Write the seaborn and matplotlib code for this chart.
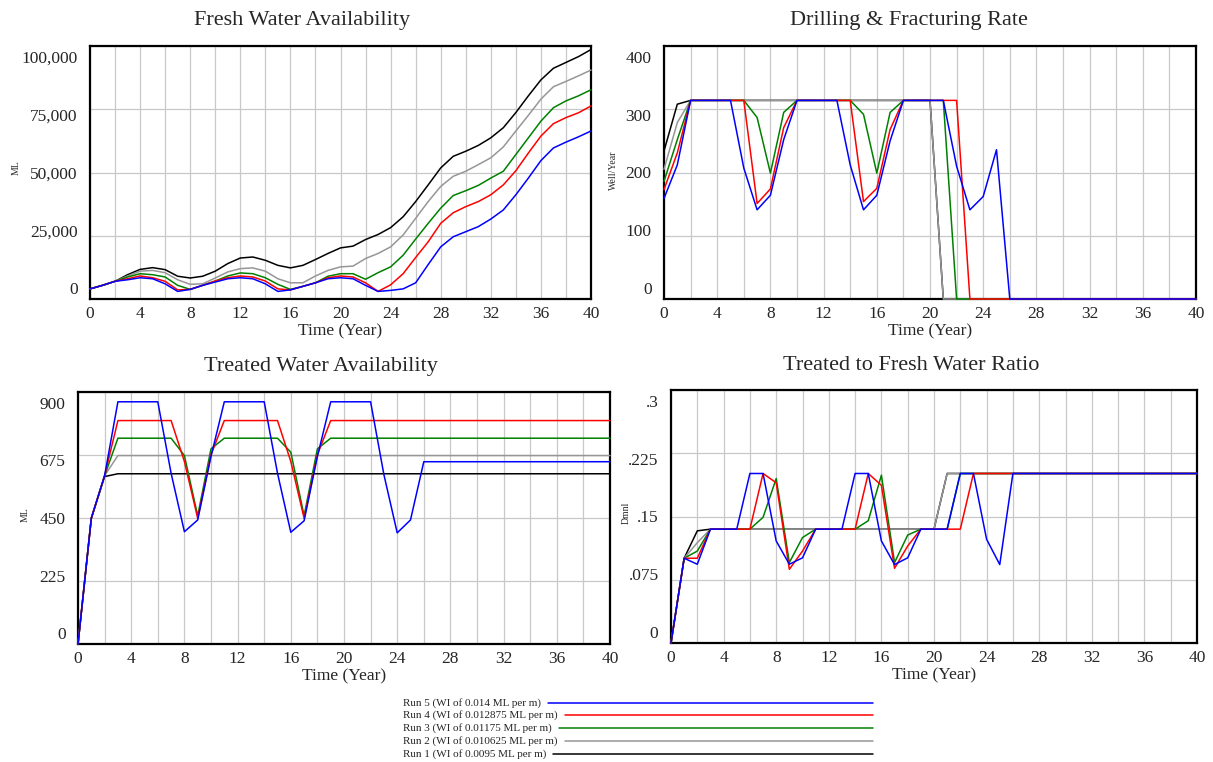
import numpy as np
import pandas as pd
import matplotlib.pyplot as plt
import seaborn as sns
from matplotlib.transforms import ScaledTranslation
from matplotlib.lines import Line2D

# DATA (one value per year)
years = list(range(41))

run_names = ['Run 1 (WI of 0.0095 ML per m)',
             'Run 2 (WI of 0.010625 ML per m)',
             'Run 3 (WI of 0.01175 ML per m)',
             'Run 4 (WI of 0.012875 ML per m)',
             'Run 5 (WI of 0.014 ML per m)']
run_colors = ['#000000', '#969696', '#008000', '#ff0000', '#0000ff']

## Fresh Water Availability (ML)
fresh_run1 = [4000, 5400, 7000, 9600, 11700, 12400, 11600, 9000, 8300, 9000,
              11000, 14000, 16200, 16600, 15300, 13300, 12300, 13300, 15600, 18000,
              20200, 20900, 23500, 25500, 28200, 32500, 38500, 45100, 51800, 56400,
              58400, 60700, 63700, 67700, 73700, 80300, 86600, 91200, 93500, 95800, 98600]
fresh_run2 = [4000, 5400, 7000, 9100, 11000, 11300, 10400, 7600, 5800, 6000,
              8300, 10700, 12000, 12300, 11000, 8000, 6400, 6400, 9100, 11300,
              12700, 13000, 16000, 18000, 20600, 25300, 31900, 38500, 44500, 48500,
              50500, 53100, 55800, 60100, 66400, 72600, 79000, 83900, 86000, 88200, 90500]
fresh_run3 = [4000, 5400, 7000, 8700, 10000, 9600, 8700, 5400, 3800, 5400,
              7100, 9100, 10300, 10000, 8400, 5800, 3800, 5000, 6400, 9000,
              10000, 10000, 7800, 10400, 12700, 17300, 23700, 29900, 35900, 40900,
              42800, 44900, 47800, 50500, 57100, 63700, 70300, 75600, 78300, 80300, 82700]
fresh_run4 = [4000, 5400, 7000, 8000, 9100, 8400, 7000, 3600, 3800, 5400,
              7100, 8400, 9100, 8700, 7100, 4000, 3600, 5000, 6400, 8400,
              9100, 8700, 6400, 3000, 5600, 10000, 16400, 22600, 29900, 34100,
              36500, 38500, 41200, 45100, 50700, 57700, 64400, 69300, 71700, 73600, 76300]
fresh_run5 = [4000, 5400, 7000, 7600, 8400, 8000, 6000, 3000, 3800, 5400,
              6700, 8000, 8400, 8000, 6000, 3000, 3600, 5000, 6400, 8000,
              8400, 8000, 5400, 3000, 3400, 4000, 6400, 13600, 20600, 24600,
              26600, 28600, 31600, 35200, 41200, 47800, 54700, 59700, 62000, 64100, 66400]

## Drilling & Fracturing Rate (Well/Year)
drill_run1 = [234, 308, 314, 314, 314, 314, 314, 314, 314, 314,
              314, 314, 314, 314, 314, 314, 314, 314, 314, 314,
              314, 0, 0, 0, 0, 0, 0, 0, 0, 0,
              0, 0, 0, 0, 0, 0, 0, 0, 0, 0, 0]
drill_run2 = [205, 279, 314, 314, 314, 314, 314, 314, 314, 314,
              314, 314, 314, 314, 314, 314, 314, 314, 314, 314,
              314, 0, 0, 0, 0, 0, 0, 0, 0, 0,
              0, 0, 0, 0, 0, 0, 0, 0, 0, 0, 0]
drill_run3 = [186, 252, 314, 314, 314, 314, 314, 287, 199, 295,
              314, 314, 314, 314, 314, 292, 199, 295, 314, 314,
              314, 314, 0, 0, 0, 0, 0, 0, 0, 0,
              0, 0, 0, 0, 0, 0, 0, 0, 0, 0, 0]
drill_run4 = [173, 231, 314, 314, 314, 314, 314, 151, 174, 271,
              314, 314, 314, 314, 314, 154, 175, 268, 314, 314,
              314, 314, 314, 0, 0, 0, 0, 0, 0, 0,
              0, 0, 0, 0, 0, 0, 0, 0, 0, 0, 0]
drill_run5 = [159, 212, 314, 314, 314, 314, 207, 141, 164, 252,
              314, 314, 314, 314, 212, 141, 164, 250, 314, 314,
              314, 314, 210, 141, 162, 236, 0, 0, 0, 0,
              0, 0, 0, 0, 0, 0, 0, 0, 0, 0, 0]

## Treated Water Availability (ML)
treated_run1 = [0, 449, 598, 608, 608, 608, 608, 608, 608, 608,
                608, 608, 608, 608, 608, 608, 608, 608, 608, 608,
                608, 608, 608, 608, 608, 608, 608, 608, 608, 608,
                608, 608, 608, 608, 608, 608, 608, 608, 608, 608, 608]
treated_run2 = [0, 449, 601, 673, 673, 673, 673, 673, 673, 673,
                673, 673, 673, 673, 673, 673, 673, 673, 673, 673,
                673, 673, 673, 673, 673, 673, 673, 673, 673, 673,
                673, 673, 673, 673, 673, 673, 673, 673, 673, 673, 673]
treated_run3 = [0, 449, 601, 735, 735, 735, 735, 735, 673, 458,
                697, 735, 735, 735, 735, 735, 685, 458, 697, 735,
                735, 735, 735, 735, 735, 735, 735, 735, 735, 735,
                735, 735, 735, 735, 735, 735, 735, 735, 735, 735, 735]
treated_run4 = [0, 449, 601, 798, 798, 798, 798, 798, 652, 449,
                676, 798, 798, 798, 798, 798, 652, 449, 676, 798,
                798, 798, 798, 798, 798, 798, 798, 798, 798, 798,
                798, 798, 798, 798, 798, 798, 798, 798, 798, 798, 798]
treated_run5 = [0, 449, 601, 865, 865, 865, 865, 610, 401, 443,
                670, 865, 865, 865, 865, 610, 399, 440, 670, 865,
                865, 865, 865, 605, 397, 443, 651, 651, 651, 651,
                651, 651, 651, 651, 651, 651, 651, 651, 651, 651, 651]

## Treated to Fresh Water Ratio (Dmnl)
ratio_run1 = [0, .1005, .133, .135, .135, .135, .135, .135, .135, .135,
              .135, .135, .135, .135, .135, .135, .135, .135, .135, .135,
              .135, .201, .201, .201, .201, .201, .201, .201, .201, .201,
              .201, .201, .201, .201, .201, .201, .201, .201, .201, .201, .201]
ratio_run2 = [0, .1005, .119, .135, .135, .135, .135, .135, .135, .135,
              .135, .135, .135, .135, .135, .135, .135, .135, .135, .135,
              .135, .201, .201, .201, .201, .201, .201, .201, .201, .201,
              .201, .201, .201, .201, .201, .201, .201, .201, .201, .201, .201]
ratio_run3 = [0, .1005, .109, .135, .135, .135, .135, .149, .195, .0954,
              .125, .135, .135, .135, .135, .145, .199, .0954, .128, .135,
              .135, .135, .201, .201, .201, .201, .201, .201, .201, .201,
              .201, .201, .201, .201, .201, .201, .201, .201, .201, .201, .201]
ratio_run4 = [0, .1005, .1005, .135, .135, .135, .135, .201, .19, .0874,
              .109, .135, .135, .135, .135, .201, .187, .0886, .115, .135,
              .135, .135, .135, .201, .201, .201, .201, .201, .201, .201,
              .201, .201, .201, .201, .201, .201, .201, .201, .201, .201, .201]
ratio_run5 = [0, .1005, .0934, .135, .135, .135, .201, .201, .121, .0934,
              .101, .135, .135, .135, .201, .201, .121, .093, .101, .135,
              .135, .135, .201, .201, .123, .093, .201, .201, .201, .201,
              .201, .201, .201, .201, .201, .201, .201, .201, .201, .201, .201]

# STYLE
sns.set_style('white')
plt.rcParams['font.family'] = ['Liberation Serif', 'DejaVu Serif']

W, H = 1213, 762
fig = plt.figure(figsize=(W / 100, H / 100), dpi=100)


def px_rect(x0, y0, x1, y1):
    # pixel box (top-left origin) -> figure fraction rect
    return [x0 / W, 1 - y1 / H, (x1 - x0) / W, (y1 - y0) / H]


def draw_panel(box, runs, ylim, yticks, yticklabels, title, title_xy, unit, unit_xy):
    ax = fig.add_axes(px_rect(*box))
    df = pd.DataFrame({
        'Time': years * len(runs),
        'value': [v for r in runs for v in r],
        'run': np.repeat(run_names, len(years)),
    })
    sns.lineplot(data=df, x='Time', y='value', hue='run', hue_order=run_names,
                 palette=run_colors, lw=1.1, legend=False, ax=ax,
                 zorder=3, clip_on=False)
    ax.set_xlim(0, 40)
    ax.set_ylim(ylim)
    ax.set_xticks(range(0, 41, 4))
    ax.set_xticks(range(0, 41, 2), minor=True)
    ax.set_yticks(yticks)
    ax.set_yticklabels(yticklabels)
    ax.grid(which='both', color='#c8c8c8', lw=0.9)
    ax.set_axisbelow(True)
    ax.tick_params(which='both', length=0)
    ax.tick_params(axis='y', pad=9, labelsize=12.5)
    ax.tick_params(axis='x', pad=5, labelsize=12.5)
    for sp in ax.spines.values():
        sp.set_linewidth(1.6)
        sp.set_color('black')
        sp.set_zorder(2.5)
    ax.set_xlabel('Time (Year)', fontsize=12.5, labelpad=1)
    ax.set_ylabel('')
    fig.text(title_xy[0] / W, 1 - title_xy[1] / H, title, fontsize=16,
             ha='center', va='center')
    fig.text(unit_xy[0] / W, 1 - unit_xy[1] / H, unit, fontsize=7,
             rotation=90, ha='center', va='center')
    # Vensim squeezes the value labels slightly inward
    n = len(yticks) - 1
    for i, lab in enumerate(ax.get_yticklabels()):
        dy = 11 * (1 - 2 * i / n)
        lab.set_transform(lab.get_transform() +
                          ScaledTranslation(0, dy / 100, fig.dpi_scale_trans))
    return ax


draw_panel((90, 46, 591, 299),
           [fresh_run1, fresh_run2, fresh_run3, fresh_run4, fresh_run5],
           (0, 100000), [0, 25000, 50000, 75000, 100000],
           ['0', '25,000', '50,000', '75,000', '100,000'],
           'Fresh Water Availability', (302, 20), 'ML', (16, 168))

draw_panel((664, 46, 1196, 299),
           [drill_run1, drill_run2, drill_run3, drill_run4, drill_run5],
           (0, 400), [0, 100, 200, 300, 400],
           ['0', '100', '200', '300', '400'],
           'Drilling & Fracturing Rate', (909, 20), 'Well/Year', (613, 170))

draw_panel((78, 392, 610, 644),
           [treated_run1, treated_run2, treated_run3, treated_run4, treated_run5],
           (0, 900), [0, 225, 450, 675, 900],
           ['0', '225', '450', '675', '900'],
           'Treated Water Availability', (321, 367), 'ML', (25, 515))

draw_panel((671, 390, 1197, 643),
           [ratio_run1, ratio_run2, ratio_run3, ratio_run4, ratio_run5],
           (0, 0.3), [0, 0.075, 0.15, 0.225, 0.3],
           ['0', '.075', '.15', '.225', '.3'],
           'Treated to Fresh Water Ratio', (911, 366), 'Dmnl', (626, 513))

# LEGEND (text first, line after it, like Vensim)
legend_rows = [703, 715, 728, 741, 754]
texts = []
for name, y in zip(run_names[::-1], legend_rows):
    texts.append(fig.text(403 / W, 1 - y / H, name, fontsize=8,
                          ha='left', va='center'))
fig.canvas.draw()
renderer = fig.canvas.get_renderer()
for t, color, y in zip(texts, run_colors[::-1], legend_rows):
    x_start = t.get_window_extent(renderer).x1 + 7
    fig.add_artist(Line2D([x_start / W, 873 / W], [1 - y / H, 1 - y / H],
                          color=color, lw=1.1, transform=fig.transFigure))

fig.savefig('out.png', dpi=100)
